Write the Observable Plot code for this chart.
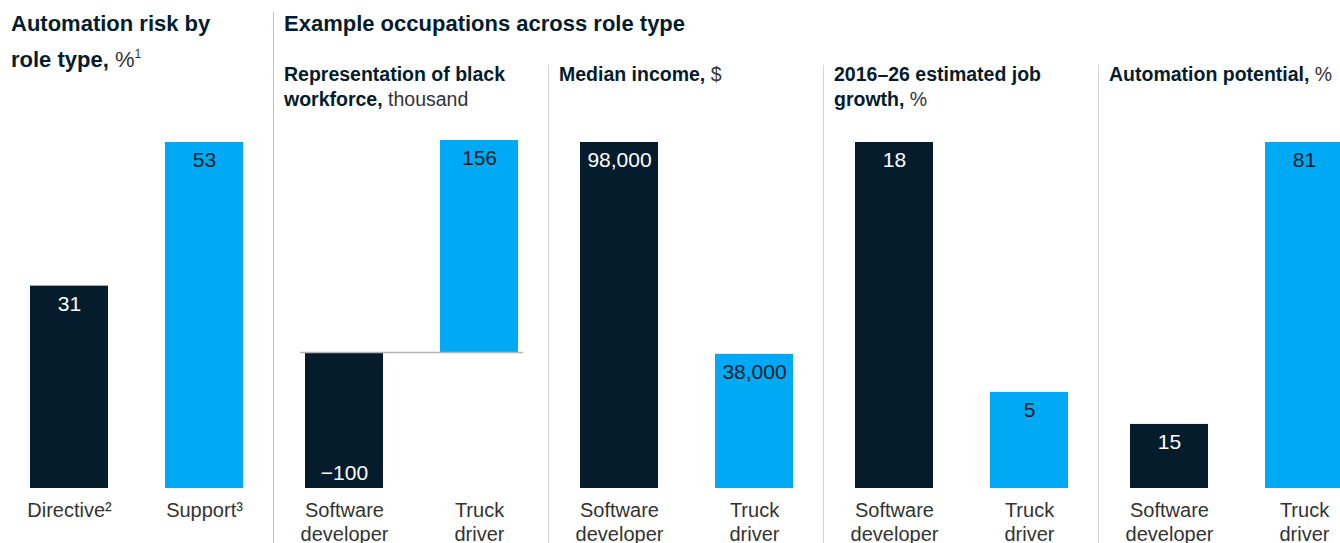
<!DOCTYPE html>
<html>
<head>
<meta charset="utf-8">
<script src="https://cdn.jsdelivr.net/npm/d3@7"></script>
<script src="https://cdn.jsdelivr.net/npm/@observablehq/plot@0.6"></script>
<style>
  html, body { margin: 0; padding: 0; background: #fff; }
  body { width: 1340px; height: 543px; position: relative; overflow: hidden;
         font-family: "Liberation Sans", Arial, sans-serif; color: #051c2c; }
  .abs { position: absolute; }
  .title { font-size: 22px; font-weight: bold; line-height: 36px; white-space: nowrap; }
  .title .u { font-weight: normal; color: #333; }
  .head { font-size: 22px; font-weight: bold; line-height: 36px; white-space: nowrap; }
  .ptitle { font-size: 19.5px; font-weight: bold; line-height: 25px; white-space: nowrap; }
  .ptitle .u { font-weight: normal; color: #333; }
  sup { font-size: 0.55em; vertical-align: 0; position: relative; top: -0.75em; }
  .div { width: 1px; background: #d4d4d4; }
  svg { max-width: none !important; }
</style>
</head>
<body>
<script>
// ---- data ----
const roleCategories = ["Directive²", "Support³"];
const roleRisk = [31, 53];
const occupationCategories = ["Software\ndeveloper", "Truck\ndriver"];
const blackWorkforce = [-100, 156];
const medianIncome = [98000, 38000];
const jobGrowth = [18, 5];
const automationPotential = [15, 81];
const barColors = ["#051c2c", "#00a9f4"];
const labelColors = ["#ffffff", "#051c2c"];

const panelTitles = [
  null,
  ['<b>Representation of black<br>workforce,</b> <span class="u">thousand</span>'],
  ['<b>Median income,</b> <span class="u">$</span>'],
  ['<b>2016–26 estimated job<br>growth,</b> <span class="u">%</span>'],
  ['<b>Automation potential,</b> <span class="u">%</span>']
];

const fmt = d3.format(",");

function addDiv(html, cls, left, top) {
  const el = document.createElement("div");
  el.className = "abs " + cls;
  el.style.left = left + "px";
  el.style.top = top + "px";
  el.innerHTML = html;
  document.body.appendChild(el);
  return el;
}

function makePanel(categories, values, marginTop, showBaseline) {
  const data = categories.map((c, i) => ({
    cat: c, value: values[i], fill: barColors[i], label: labelColors[i]
  }));
  const lo = Math.min(0, d3.min(values));
  const hi = Math.max(0, d3.max(values));
  const marks = [
    Plot.barY(data, {x: "cat", y1: 0, y2: "value", fill: "fill"}),
    Plot.text(data.filter(d => d.value >= 0), {
      x: "cat", y: "value", text: d => fmt(d.value), dy: 18,
      fill: "label", fontSize: 21
    }),
    Plot.text(data.filter(d => d.value < 0), {
      x: "cat", y: "value", text: d => fmt(d.value), dy: -15,
      fill: "label", fontSize: 21
    }),
    Plot.axisX({tickSize: 0, tickPadding: 11, fontSize: 20, lineHeight: 1.2, label: null, fill: "#333"})
  ];
  if (showBaseline) {
    marks.push(Plot.ruleY([0], {stroke: "#b5b5b5", strokeWidth: 1.5, insetLeft: 23.5, insetRight: 23.5}));
  }
  return Plot.plot({
    width: 275,
    height: 413,
    marginTop: marginTop,
    marginBottom: 55,
    marginLeft: 1.5,
    marginRight: 3.5,
    x: {domain: categories, paddingInner: 0.4222, paddingOuter: 0.2111},
    y: {domain: [lo, hi], axis: null},
    color: {type: "identity"},
    style: {fontFamily: "'Liberation Sans', Arial, sans-serif", fontSize: "18px", background: "transparent", overflow: "visible", color: "#333", maxWidth: "none"},
    marks
  });
}

// titles
addDiv('Automation risk by<br>role type, <span class="u">%<sup>1</sup></span>', "title", 11, 6);
addDiv('Example occupations across role type', "head", 284, 6);

// dividers
const d1 = addDiv("", "div", 273, 12); d1.style.height = (543 - 12) + "px"; d1.style.background = "#c4c4c4";
[548, 823, 1098].forEach(x => { const d = addDiv("", "div", x, 65); d.style.height = (543 - 65) + "px"; });

// panels
const panels = [
  [roleCategories, roleRisk, 12, false],
  [occupationCategories, blackWorkforce, 10, true],
  [occupationCategories, medianIncome, 12, false],
  [occupationCategories, jobGrowth, 12, false],
  [occupationCategories, automationPotential, 12, false]
];
panels.forEach(([cats, vals, mt, base], i) => {
  const chart = makePanel(cats, vals, mt, base);
  const wrap = document.createElement("div");
  wrap.className = "abs";
  wrap.style.left = (i * 275) + "px";
  wrap.style.top = "130px";
  wrap.style.width = "275px";
  wrap.style.height = "413px";
  wrap.appendChild(chart);
  document.body.appendChild(wrap);
  if (panelTitles[i]) addDiv(panelTitles[i][0], "ptitle", i * 275 + 9, 62);
});
</script>
</body>
</html>
